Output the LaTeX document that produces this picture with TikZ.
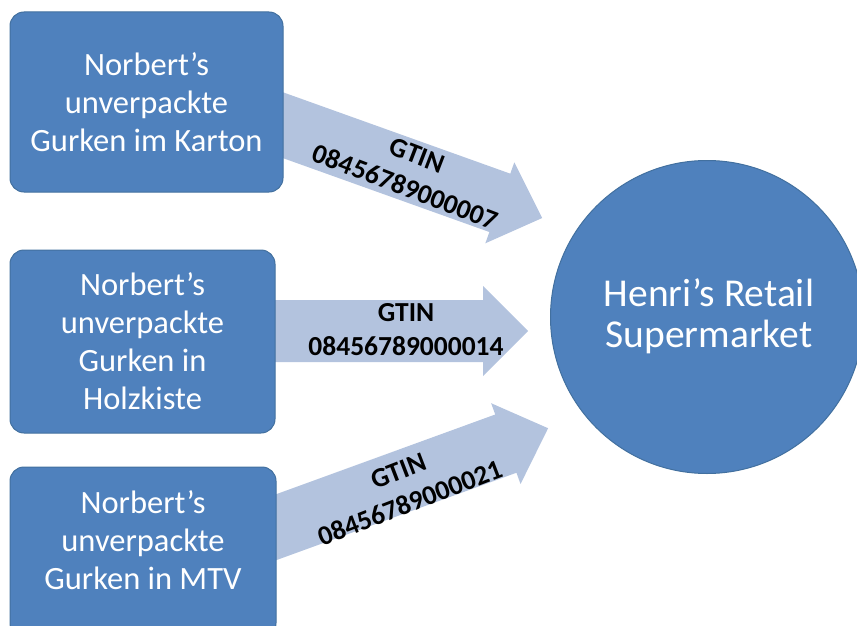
\documentclass[tikz,border=0pt]{standalone}
\usepackage{fontspec}
\setmainfont{Carlito}
\definecolor{boxblue}{HTML}{4F81BD}
\definecolor{boxedge}{HTML}{42709F}
\definecolor{arrowblue}{HTML}{B3C3DE}
\begin{document}
\begin{tikzpicture}[x=1pt,y=-1pt,
  boxstyle/.style={draw=boxedge, line width=1pt, fill=boxblue, rounded corners=14pt, inner sep=0pt},
  boxtext/.style={text=white, align=center, font=\fontsize{32.5}{38}\selectfont, inner sep=0pt},
  circtext/.style={text=white, align=center, font=\fontsize{39.5}{41}\selectfont, inner sep=0pt},
  arrowtext/.style={text=black, align=center, font=\fontsize{27.5}{34}\selectfont\bfseries, inner sep=0pt},
  arrowbody/.style={fill=arrowblue}]
\useasboundingbox (0,0) rectangle (857,626);
\clip (0,0) rectangle (857,626);

% block arrows (drawn first, tails hidden behind boxes)
\begin{scope}[shift={(288,127)}, rotate=-19.7]
  \fill[arrowbody] (-40,-31) -- (225,-31) -- (225,-43) -- (270,0) -- (225,43) -- (225,31) -- (-40,31) -- cycle;
  \node[arrowtext, rotate=-21] (g1) at (131,0) {GTIN\\08456789000007};
\end{scope}

\fill[arrowbody] (240,300) -- (483,300) -- (483,286) -- (528,331) -- (483,376) -- (483,362) -- (240,362) -- cycle;
\node[arrowtext] (g2) at (406,330) {GTIN\\08456789000014};

\begin{scope}[shift={(285,524)}, rotate=20]
  \fill[arrowbody] (-40,-31) -- (235,-31) -- (235,-43) -- (280,0) -- (235,43) -- (235,31) -- (-40,31) -- cycle;
  \node[arrowtext, rotate=21] (g3) at (125,6) {GTIN\\08456789000021};
\end{scope}

% source boxes
\node[boxstyle, minimum width=273pt, minimum height=180pt] (b1) at (146.5,102) {};
\node[boxtext] (t1) at (b1.center) {Norbert’s\\unverpackte\\Gurken im Karton};

\node[boxstyle, minimum width=265pt, minimum height=183pt] (b2) at (142.5,341.5) {};
\node[boxtext] (t2) at (b2.center) {Norbert’s\\unverpackte\\Gurken in\\Holzkiste};

\node[boxstyle, minimum width=266pt, minimum height=170pt] (b3) at (143,552) {};
\node[boxtext] (t3) at (143,540) {Norbert’s\\unverpackte\\Gurken in MTV};

% target circle
\node[circle, draw=boxedge, line width=1pt, fill=boxblue, minimum size=313pt, inner sep=0pt] (c) at (707,317) {};
\node[circtext] (ct) at (709,316) {Henri’s Retail\\Supermarket};
\end{tikzpicture}
\end{document}
